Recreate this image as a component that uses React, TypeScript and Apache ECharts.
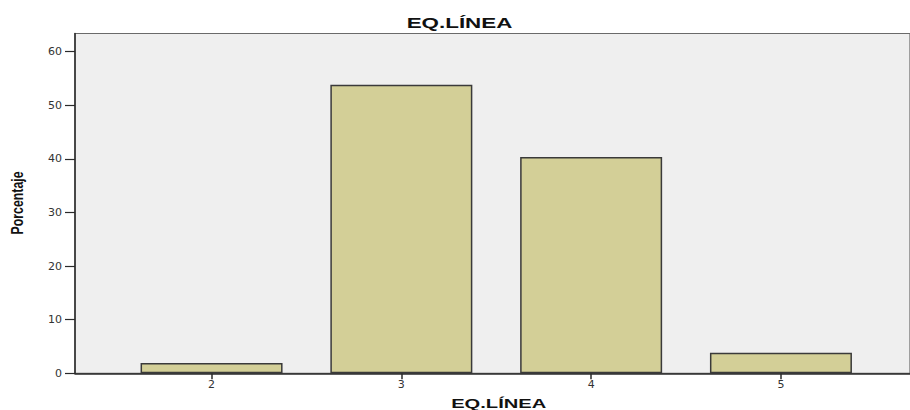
import React, { useEffect, useRef } from "react";
import * as echarts from "echarts";

const categories = [2, 3, 4, 5];
const percentages = [1.92, 53.85, 40.38, 3.85];
const yTicks = [0, 10, 20, 30, 40, 50, 60];
const chartTitle = "EQ.LÍNEA";
const xName = "EQ.LÍNEA";
const yName = "Porcentaje";

export default function App() {
  const ref = useRef<HTMLDivElement>(null);
  useEffect(() => {
    if (!ref.current) return;
    const chart = echarts.init(ref.current, null, { renderer: "svg" });
    const data = categories.map((c, i) => [c, percentages[i]]);
    chart.setOption({
      animation: false,
      backgroundColor: "#ffffff",
      grid: {
        left: 75,
        top: 33.5,
        right: -3,
        bottom: 36.7,
        show: true,
        backgroundColor: "#efefef",
        borderColor: "#6a6a6a",
        borderWidth: 1.2,
      },
      xAxis: {
        type: "value",
        min: 1.2805,
        max: 5.68,
        splitLine: { show: false },
        axisLine: { show: true, onZero: false, lineStyle: { color: "#2a2a2a", width: 1.5 } },
        axisTick: {
          show: true,
          length: 6,
          customValues: categories,
          lineStyle: { color: "#2a2a2a", width: 1.5 },
        },
        axisLabel: {
          customValues: categories,
          color: "#333",
          fontFamily: "DejaVu Sans",
          fontSize: 11,
          margin: 6,
        },
      },
      yAxis: {
        type: "value",
        min: 0,
        max: 63.4,
        splitLine: { show: false },
        axisLine: { show: true, lineStyle: { color: "#2a2a2a", width: 1.5 } },
        axisTick: {
          show: true,
          length: 10,
          customValues: yTicks,
          lineStyle: { color: "#2a2a2a", width: 1.2 },
        },
        axisLabel: {
          customValues: yTicks,
          color: "#333",
          fontFamily: "DejaVu Sans",
          fontSize: 11,
          margin: 13,
        },
      },
      series: [
        {
          type: "bar",
          data,
          barWidth: 142,
          itemStyle: {
            color: "#d3cf97",
            borderColor: "#3a3a3a",
            borderWidth: 1.5,
          },
        },
      ],
      graphic: [
        {
          type: "text",
          x: 459.5,
          y: 23,
          scaleX: 1.6,
          style: {
            text: chartTitle,
            fontFamily: "Liberation Sans",
            fontWeight: "bold",
            fontSize: 14,
            fill: "#111",
            textAlign: "center",
            textVerticalAlign: "middle",
          },
        },
        {
          type: "text",
          x: 498.7,
          y: 403.5,
          scaleX: 1.55,
          style: {
            text: xName,
            fontFamily: "Liberation Sans",
            fontWeight: "bold",
            fontSize: 13,
            fill: "#111",
            textAlign: "center",
            textVerticalAlign: "middle",
          },
        },
        {
          type: "text",
          x: 17.5,
          y: 203,
          rotation: Math.PI / 2,
          scaleX: 0.95,
          scaleY: 1.25,
          style: {
            text: yName,
            fontFamily: "Liberation Sans",
            fontWeight: "bold",
            fontSize: 13,
            fill: "#111",
            textAlign: "center",
            textVerticalAlign: "middle",
          },
        },
      ],
    });
    return () => chart.dispose();
  }, []);
  return (
    <div
      ref={ref}
      style={{ position: "fixed", left: 0, top: 0, width: 910, height: 410 }}
    />
  );
}
